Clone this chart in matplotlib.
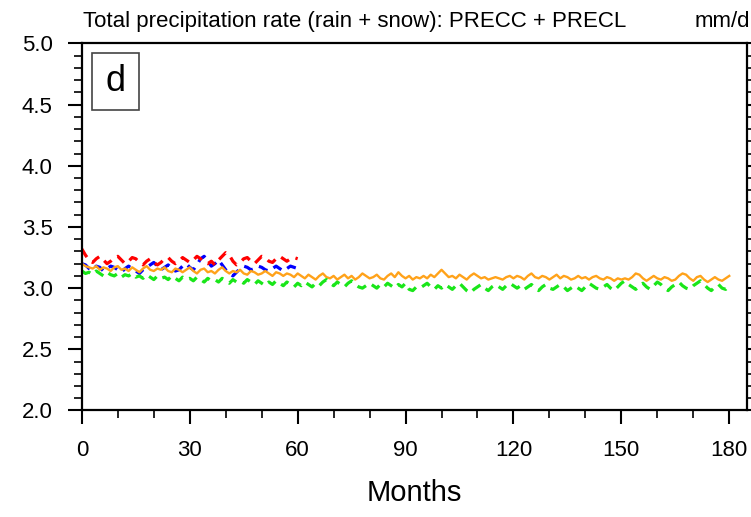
import matplotlib.pyplot as plt
from matplotlib.patches import Rectangle
from matplotlib.ticker import MultipleLocator

plt.rcParams["font.family"] = ["Liberation Sans", "DejaVu Sans"]

# monthly values (mm/d)
red_vals = [
    3.32, 3.27, 3.23, 3.21, 3.24, 3.26, 3.23, 3.20, 3.22, 3.25,
    3.26, 3.23, 3.20, 3.22, 3.25, 3.24, 3.21, 3.19, 3.22, 3.24,
    3.21, 3.19, 3.21, 3.24, 3.25, 3.22, 3.20, 3.22, 3.25, 3.23,
    3.21, 3.23, 3.26, 3.24, 3.21, 3.20, 3.22, 3.19, 3.23, 3.26,
    3.29, 3.27, 3.22, 3.19, 3.21, 3.24, 3.25, 3.22, 3.20, 3.23,
    3.26, 3.25, 3.22, 3.21, 3.24, 3.26, 3.24, 3.22, 3.24, 3.25,
    3.24,
]
blue_vals = [
    3.20, 3.19, 3.16, 3.15, 3.18, 3.17, 3.14, 3.16, 3.18, 3.17,
    3.15, 3.13, 3.16, 3.18, 3.16, 3.14, 3.12, 3.15, 3.17, 3.19,
    3.21, 3.18, 3.15, 3.17, 3.19, 3.16, 3.14, 3.15, 3.18, 3.20,
    3.17, 3.15, 3.19, 3.24, 3.26, 3.22, 3.18, 3.20, 3.23, 3.19,
    3.15, 3.12, 3.10, 3.13, 3.16, 3.18, 3.17, 3.15, 3.16, 3.18,
    3.17, 3.15, 3.14, 3.16, 3.18, 3.16, 3.14, 3.16, 3.18, 3.17,
    3.16,
]
orange_vals = [
    3.20, 3.18, 3.17, 3.16, 3.18, 3.15, 3.17, 3.16, 3.14, 3.17,
    3.18, 3.15, 3.16, 3.14, 3.17, 3.15, 3.13, 3.16, 3.18, 3.15,
    3.14, 3.16, 3.15, 3.17, 3.14, 3.13, 3.16, 3.15, 3.13, 3.15,
    3.17, 3.14, 3.12, 3.15, 3.16, 3.13, 3.14, 3.12, 3.15, 3.17,
    3.14, 3.12, 3.14, 3.13, 3.15, 3.12, 3.11, 3.14, 3.13, 3.11,
    3.12, 3.14, 3.12, 3.10, 3.13, 3.12, 3.10, 3.12, 3.11, 3.09,
    3.12,
    3.10, 3.08, 3.11, 3.09, 3.07, 3.10, 3.12, 3.09, 3.08, 3.10,
    3.07, 3.09, 3.11, 3.08, 3.10, 3.07, 3.09, 3.12, 3.10, 3.08,
    3.09, 3.11, 3.08, 3.07, 3.10, 3.12, 3.09, 3.13, 3.10, 3.08,
    3.10, 3.07, 3.09, 3.08, 3.10, 3.08, 3.11, 3.09, 3.12, 3.15,
    3.12, 3.09, 3.10, 3.08, 3.11, 3.09, 3.07, 3.10, 3.12, 3.10,
    3.08, 3.09, 3.07, 3.08, 3.09, 3.08, 3.07, 3.09, 3.10, 3.08,
    3.10, 3.09, 3.07, 3.10, 3.12, 3.09, 3.08, 3.10, 3.09, 3.07,
    3.09, 3.11, 3.08, 3.10, 3.09, 3.07, 3.08, 3.10, 3.08, 3.09,
    3.07, 3.09, 3.10, 3.08, 3.07, 3.09, 3.08, 3.06, 3.08, 3.07,
    3.08, 3.07, 3.09, 3.12, 3.11, 3.08, 3.06, 3.08, 3.10, 3.08,
    3.07, 3.09, 3.08, 3.06, 3.07, 3.10, 3.12, 3.11, 3.08, 3.06,
    3.09, 3.10, 3.07, 3.05, 3.07, 3.09, 3.07, 3.06, 3.08, 3.10,
]
green_vals = [
    3.14, 3.12, 3.13, 3.11, 3.14, 3.12, 3.10, 3.13, 3.11, 3.10,
    3.12, 3.09, 3.11, 3.10, 3.12, 3.09, 3.10, 3.08, 3.11, 3.09,
    3.07, 3.10, 3.08, 3.09, 3.07, 3.10, 3.08, 3.06, 3.09, 3.07,
    3.08, 3.06, 3.09, 3.07, 3.05, 3.08, 3.06, 3.07, 3.05, 3.08,
    3.06, 3.04, 3.07, 3.05, 3.06, 3.04, 3.07, 3.05, 3.03, 3.06,
    3.04, 3.02, 3.05, 3.03, 3.06, 3.04, 3.02, 3.05, 3.03, 3.01,
    3.04,
    3.02, 3.05, 3.03, 3.01, 3.04, 3.02, 3.05, 3.07, 3.04, 3.02,
    3.05, 3.03, 3.01, 3.04, 3.06, 3.03, 3.01, 3.00, 3.02, 3.04,
    3.02, 3.00, 3.03, 3.01, 3.04, 3.02, 3.00, 3.03, 3.01, 3.04,
    2.99, 2.98, 3.01, 3.00, 3.02, 3.04, 3.01, 2.99, 3.02, 3.00,
    3.03, 3.01, 2.99, 3.02, 3.04, 3.01, 2.98, 2.96, 2.99, 3.01,
    3.03, 3.00, 2.98, 3.01, 3.03, 3.01, 2.99, 3.02, 3.04, 3.02,
    3.00, 3.02, 2.99, 3.01, 3.03, 3.00, 2.98, 3.01, 3.03, 3.00,
    2.99, 3.01, 3.03, 3.01, 2.98, 3.00, 3.02, 3.00, 2.98, 3.01,
    3.04, 3.02, 3.00, 2.99, 3.01, 3.03, 3.00, 2.98, 3.01, 3.04,
    3.06, 3.03, 3.01, 2.99, 3.02, 3.04, 3.01, 2.99, 3.02, 3.05,
    3.03, 3.00, 2.98, 3.01, 3.03, 3.05, 3.02, 3.00, 2.99, 3.02,
    3.04, 3.06, 3.03, 3.00, 2.98, 3.01, 3.03, 3.00, 2.99, 3.02,
]

months_short = list(range(len(red_vals)))
months_long = list(range(len(orange_vals)))

fig = plt.figure(figsize=(7.51, 5.17), dpi=100)
ax = fig.add_axes([0.109, 0.206, 0.886, 0.710])

ax.plot(months_short, blue_vals, color="#0000ff", lw=2.3, dashes=(3, 2.2))
ax.plot(months_long, orange_vals, color="#ffa21a", lw=1.7)
ax.plot(months_long, green_vals, color="#19e619", lw=2.3, dashes=(3, 2.2))
ax.plot(months_short, red_vals, color="#ff0000", lw=2.3, dashes=(3, 2.2))

ax.set_xlim(0, 185)
ax.set_ylim(2.0, 5.0)
ax.set_xticks(range(0, 181, 30))
ax.xaxis.set_minor_locator(MultipleLocator(10))
ax.yaxis.set_major_locator(MultipleLocator(0.5))
ax.yaxis.set_minor_locator(MultipleLocator(0.1))
ax.yaxis.set_major_formatter(plt.FormatStrFormatter("%.1f"))
ax.tick_params(which="major", direction="out", length=10, width=1.5,
               labelsize=16, pad=11, right=True)
ax.tick_params(which="minor", direction="out", length=5.5, width=1.2, right=True)
for sp in ax.spines.values():
    sp.set_linewidth(1.6)

ax.set_xlabel("Months", fontsize=21, labelpad=13)

# panel label box
ax.add_patch(Rectangle((0.015, 0.818), 0.071, 0.157, transform=ax.transAxes,
                       fc="white", ec="#444444", lw=1.2, zorder=5))
ax.text(0.0505, 0.8965, "d", transform=ax.transAxes, fontsize=26,
        ha="center", va="center", zorder=6)

fig.text(0.111, 0.948, "Total precipitation rate (rain + snow): PRECC + PRECL",
         fontsize=16, ha="left", va="baseline")
fig.text(0.999, 0.948, "mm/d", fontsize=16, ha="right", va="baseline")

plt.savefig("out.png", dpi=100)
